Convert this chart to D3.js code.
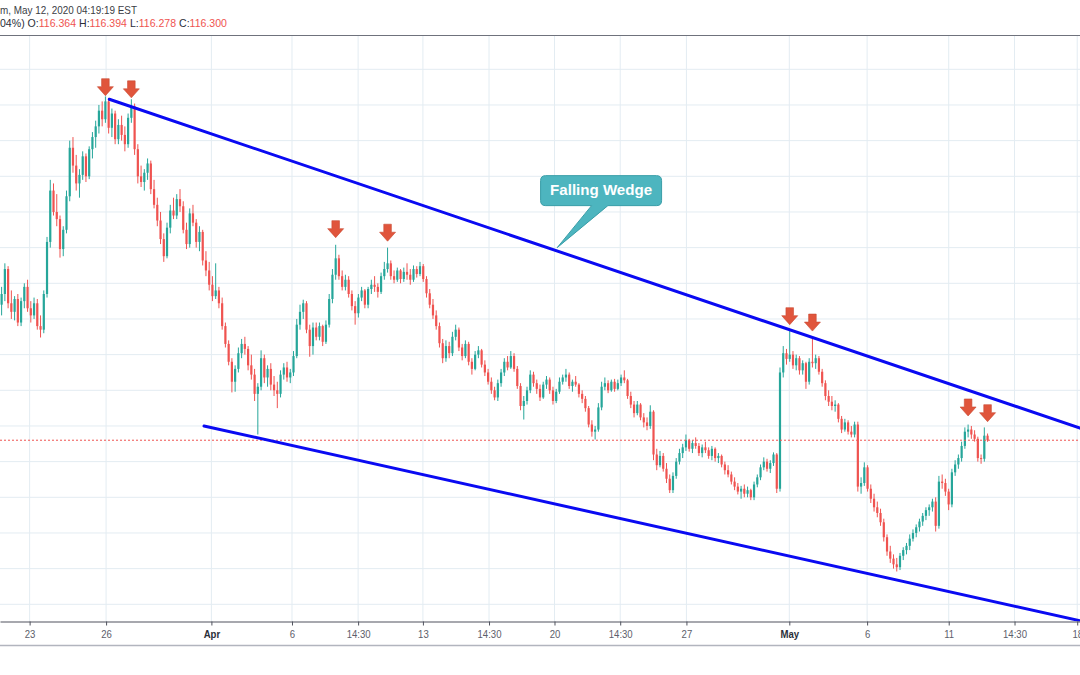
<!DOCTYPE html>
<html><head><meta charset="utf-8">
<script src="https://cdn.jsdelivr.net/npm/d3@7"></script>
<style>html,body{margin:0;padding:0;background:#fff;overflow:hidden}</style>
</head><body><svg id="c" width="1080" height="675"></svg>
<script>
// ---- DATA (EUR/JPY 3h candles: [open, high, low, close]) ----
const seg1 = [[118.20,118.45,118.05,118.35],[118.35,118.78,118.25,118.70],[118.70,118.74,118.15,118.22],[118.22,118.40,118.00,118.10],[118.10,118.32,117.98,118.28],[118.28,118.35,117.90,117.95],[117.95,118.30,117.90,118.25],[118.25,118.50,118.15,118.45],[118.45,118.55,118.10,118.15],[118.15,118.25,117.95,118.05],[118.05,118.30,118.00,118.22],[118.22,118.28,117.85,117.90],[117.90,118.05,117.74,117.85],[117.85,118.40,117.80,118.35],[118.35,119.15,118.30,119.08],[119.08,119.95,119.00,119.80],[119.80,119.90,119.45,119.50],[119.50,119.75,119.30,119.40],[119.40,119.45,118.86,118.98],[118.98,119.30,118.88,119.25],[119.25,119.80,119.20,119.72],[119.72,120.50,119.65,120.40],[120.40,120.55,120.05,120.15],[120.15,120.30,119.80,119.90],[119.90,120.10,119.70,120.02],[120.02,120.35,119.95,120.28],[120.28,120.32,119.92,120.00],[120.00,120.42,119.96,120.38],[120.38,120.62,120.25,120.55],[120.55,120.78,120.40,120.70],[120.70,121.00,120.60,120.92],[120.92,121.05,120.70,120.80],[120.80,121.12,120.75,121.05],[121.05,121.10,120.60,120.68],[120.68,120.95,120.55,120.88],[120.88,120.92,120.45,120.52],[120.52,120.80,120.45,120.72],[120.72,120.85,120.50,120.58],[120.58,120.70,120.35,120.45],[120.45,120.88,120.40,120.82]];
const seg2 = [[120.82,121.08,120.75,120.98],[120.98,121.02,120.30,120.38],[120.38,120.45,119.90,120.00],[120.00,120.15,119.85,119.92],[119.92,120.10,119.80,120.05],[120.05,120.25,119.95,120.18],[120.18,120.22,119.75,119.82],[119.82,119.95,119.55,119.60],[119.60,119.70,119.30,119.38],[119.38,119.50,119.05,119.12],[119.12,119.20,118.80,118.88],[118.88,119.35,118.85,119.28],[119.28,119.60,119.20,119.52],[119.52,119.70,119.40,119.45],[119.45,119.75,119.40,119.68],[119.68,119.82,119.50,119.58],[119.58,119.65,119.20,119.25],[119.25,119.35,118.98,119.05],[119.05,119.55,119.00,119.48],[119.48,119.60,119.30,119.35],[119.35,119.40,119.00,119.08],[119.08,119.30,118.95,119.22],[119.22,119.25,118.75,118.82],[118.82,118.95,118.60,118.68],[118.68,118.80,118.40,118.48],[118.48,118.60,118.25,118.32],[118.32,118.78,118.28,118.40],[118.40,118.45,118.15,118.22],[118.22,118.30,117.85,117.90],[117.90,117.95,117.60,117.65],[117.65,117.70,117.35,117.40],[117.40,117.45,116.97,117.12],[117.12,117.35,116.98,117.30],[117.30,117.60,117.25,117.52],[117.52,117.72,117.45,117.65],[117.65,117.75,117.50,117.58],[117.58,117.62,117.28,117.35],[117.35,117.50,117.15,117.22],[117.22,117.30,116.85,116.95],[116.95,117.10,116.38,117.05]];
const seg3 = [[117.05,117.56,117.00,117.45],[117.45,117.50,117.10,117.18],[117.18,117.35,117.05,117.30],[117.30,117.38,117.00,117.08],[117.08,117.20,116.92,117.00],[117.00,117.12,116.75,116.95],[116.95,117.28,116.90,117.22],[117.22,117.38,117.15,117.32],[117.32,117.40,117.12,117.18],[117.18,117.30,117.10,117.25],[117.25,117.55,117.20,117.48],[117.48,118.00,117.45,117.92],[117.92,118.20,117.85,118.10],[118.10,118.27,118.00,118.22],[118.22,118.25,117.80,117.85],[117.85,117.92,117.47,117.62],[117.62,117.95,117.50,117.88],[117.88,117.95,117.70,117.75],[117.75,117.95,117.70,117.90],[117.90,117.92,117.62,117.68],[117.68,117.98,117.65,117.92],[117.92,118.35,117.88,118.28],[118.28,118.70,118.22,118.62],[118.62,119.04,118.55,118.85],[118.85,118.90,118.55,118.60],[118.60,118.68,118.40,118.45],[118.45,118.62,118.40,118.55],[118.55,118.60,118.30,118.35],[118.35,118.40,118.12,118.18],[118.18,118.25,117.92,118.08],[118.08,118.35,118.02,118.30],[118.30,118.45,118.25,118.40],[118.40,118.42,118.15,118.20],[118.20,118.45,118.15,118.42],[118.42,118.55,118.35,118.48],[118.48,118.60,118.38,118.45],[118.45,118.50,118.30,118.38],[118.38,118.65,118.35,118.60],[118.60,118.80,118.55,118.70],[118.70,119.00,118.65,118.78]];
const seg4 = [[118.78,118.82,118.55,118.60],[118.60,118.68,118.50,118.55],[118.55,118.72,118.52,118.68],[118.68,118.70,118.50,118.56],[118.56,118.72,118.52,118.66],[118.66,118.78,118.55,118.62],[118.62,118.70,118.48,118.55],[118.55,118.75,118.52,118.70],[118.70,118.74,118.58,118.63],[118.63,118.80,118.60,118.74],[118.74,118.77,118.52,118.56],[118.56,118.60,118.30,118.36],[118.36,118.42,118.15,118.20],[118.20,118.28,118.00,118.05],[118.05,118.12,117.85,117.90],[117.90,117.95,117.60,117.66],[117.66,117.72,117.38,117.45],[117.45,117.70,117.40,117.62],[117.62,117.68,117.45,117.52],[117.52,117.82,117.48,117.75],[117.75,117.92,117.70,117.85],[117.85,117.88,117.55,117.60],[117.60,117.65,117.42,117.48],[117.48,117.70,117.45,117.65],[117.65,117.68,117.35,117.40],[117.40,117.45,117.22,117.30],[117.30,117.55,117.28,117.50],[117.50,117.62,117.45,117.56],[117.56,117.58,117.32,117.36],[117.36,117.42,117.20,117.25],[117.25,117.30,117.08,117.12],[117.12,117.18,116.95,117.00],[117.00,117.05,116.86,116.90],[116.90,117.15,116.85,117.10],[117.10,117.30,117.05,117.25],[117.25,117.45,117.20,117.40],[117.40,117.48,117.28,117.32],[117.32,117.55,117.30,117.48],[117.48,117.52,117.26,117.30],[117.30,117.34,117.02,117.06]];
const seg5 = [[117.06,117.10,116.72,116.78],[116.78,116.92,116.59,116.85],[116.85,117.05,116.80,117.00],[117.00,117.28,116.96,117.22],[117.22,117.26,117.05,117.10],[117.10,117.15,116.95,117.02],[117.02,117.08,116.85,116.90],[116.90,117.12,116.88,117.08],[117.08,117.20,117.02,117.15],[117.15,117.18,116.95,117.00],[117.00,117.05,116.80,116.85],[116.85,117.02,116.82,116.98],[116.98,117.18,116.95,117.12],[117.12,117.22,117.08,117.18],[117.18,117.30,117.12,117.22],[117.22,117.25,117.02,117.06],[117.06,117.15,116.98,117.12],[117.12,117.20,117.05,117.08],[117.08,117.10,116.90,116.95],[116.95,117.00,116.82,116.88],[116.88,116.92,116.70,116.75],[116.75,116.78,116.48,116.52],[116.52,116.58,116.35,116.42],[116.42,116.50,116.31,116.45],[116.45,116.82,116.42,116.76],[116.76,117.12,116.72,117.05],[117.05,117.18,117.00,117.10],[117.10,117.14,116.96,117.00],[117.00,117.15,116.98,117.12],[117.12,117.16,116.98,117.02],[117.02,117.15,117.00,117.10],[117.10,117.22,117.06,117.18],[117.18,117.28,117.10,117.14],[117.14,117.16,116.88,116.92],[116.92,116.98,116.75,116.80],[116.80,116.85,116.62,116.68],[116.68,116.85,116.65,116.80],[116.80,116.82,116.58,116.62],[116.62,116.68,116.48,116.55],[116.55,116.62,116.44,116.50]];
const seg6 = [[116.50,116.79,116.46,116.70],[116.70,116.72,116.02,116.10],[116.10,116.18,115.88,115.95],[115.95,116.15,115.92,116.08],[116.08,116.12,115.86,115.90],[115.90,115.98,115.70,115.76],[115.76,115.82,115.56,115.60],[115.60,115.85,115.56,115.80],[115.80,116.05,115.76,116.00],[116.00,116.18,115.96,116.12],[116.12,116.25,116.05,116.20],[116.20,116.38,116.15,116.30],[116.30,116.32,116.14,116.18],[116.18,116.30,116.12,116.26],[116.26,116.34,116.18,116.22],[116.22,116.26,116.08,116.12],[116.12,116.24,116.06,116.20],[116.20,116.28,116.12,116.16],[116.16,116.20,116.04,116.08],[116.08,116.22,116.02,116.18],[116.18,116.20,116.00,116.05],[116.05,116.12,115.98,116.08],[116.08,116.10,115.92,115.96],[115.96,116.00,115.82,115.88],[115.88,115.95,115.78,115.82],[115.82,115.86,115.68,115.72],[115.72,115.78,115.60,115.65],[115.65,115.70,115.54,115.58],[115.58,115.66,115.48,115.62],[115.62,115.68,115.50,115.55],[115.55,115.65,115.50,115.60],[115.60,115.62,115.46,115.50],[115.50,115.72,115.46,115.68],[115.68,115.82,115.64,115.78],[115.78,115.96,115.74,115.92],[115.92,116.06,115.88,116.00],[116.00,116.04,115.86,115.90],[115.90,116.02,115.84,115.98],[115.98,116.13,115.94,116.10],[116.10,116.12,115.56,115.62]];
const seg7 = [[115.62,117.32,115.58,117.25],[117.25,117.62,117.18,117.52],[117.52,117.58,117.36,117.44],[117.44,117.86,117.40,117.50],[117.50,117.55,117.30,117.35],[117.35,117.50,117.28,117.45],[117.45,117.48,117.22,117.28],[117.28,117.42,117.22,117.38],[117.38,117.40,117.02,117.12],[117.12,117.45,117.08,117.40],[117.40,117.76,117.32,117.38],[117.38,117.50,117.30,117.45],[117.45,117.48,117.22,117.26],[117.26,117.30,117.05,117.10],[117.10,117.14,116.86,116.92],[116.92,117.00,116.78,116.84],[116.84,116.92,116.72,116.78],[116.78,116.86,116.70,116.80],[116.80,116.82,116.55,116.60],[116.60,116.64,116.40,116.45],[116.45,116.60,116.42,116.55],[116.55,116.58,116.38,116.42],[116.42,116.50,116.34,116.38],[116.38,116.56,116.34,116.52],[116.52,116.56,115.58,115.65],[115.65,115.78,115.55,115.70],[115.70,115.99,115.66,115.92],[115.92,115.95,115.58,115.62],[115.62,115.68,115.42,115.48],[115.48,115.55,115.30,115.36],[115.36,115.44,115.22,115.28],[115.28,115.34,115.10,115.15],[115.15,115.20,114.88,114.94],[114.94,114.98,114.68,114.74],[114.74,114.82,114.58,114.64],[114.64,114.70,114.50,114.56],[114.56,114.65,114.46,114.52],[114.52,114.72,114.48,114.68],[114.68,114.80,114.62,114.76],[114.76,114.86,114.70,114.82]];
const seg8 = [[114.82,114.98,114.76,114.92],[114.92,115.05,114.88,115.00],[115.00,115.12,114.94,115.08],[115.08,115.20,115.02,115.16],[115.16,115.28,115.10,115.24],[115.24,115.36,115.18,115.32],[115.32,115.40,115.24,115.36],[115.36,115.48,115.30,115.44],[115.44,115.50,115.02,115.10],[115.10,115.80,115.06,115.72],[115.72,115.82,115.62,115.70],[115.70,115.76,115.52,115.58],[115.58,115.62,115.32,115.40],[115.40,115.90,115.36,115.85],[115.85,116.02,115.80,115.96],[115.96,116.10,115.90,116.05],[116.05,116.28,116.00,116.22],[116.22,116.48,116.18,116.42],[116.42,116.52,116.34,116.45],[116.45,116.50,116.32,116.38],[116.38,116.44,116.28,116.32],[116.32,116.35,116.00,116.05],[116.05,116.10,115.97,116.04],[116.04,116.48,116.00,116.364],[116.364,116.394,116.278,116.300]];

const tickBars   = [9.13, 32.71, 65.18, 90.03, 110.42, 130.40, 150.78, 170.97, 191.23, 211.65, 243.37, 267.36, 292.52, 312.81, 332.14];
const tickLabels = ["23","26","Apr","6","14:30","13","14:30","20","14:30","27","May","6","11","14:30","18"];
const monthLabels = ["Apr","May"];
const gridPrices = [114,114.5,115,115.5,116,116.5,117,117.5,118,118.5,119,119.5,120,120.5,121,121.5];

const arrowBars   = [32, 40, 103, 119, 243, 250, 298, 304];
const arrowPrices = [121.13, 121.10, 119.14, 119.09, 117.92, 117.83, 116.64, 116.56];

const upperWedge = [[33.7, 121.08], [333, 116.47]];
const lowerWedge = [[62.9, 116.50], [333, 113.77]];
const calloutText = "Falling Wedge";
const calloutTip = [171.8, 119.0];

const headerLine1 = "m, May 12, 2020 04:19:19 EST";
const headerPrefix = "04%) ";
const ohlcKeys = ["O:","H:","L:","C:"];
const ohlcVals = ["116.364","116.394","116.278","116.300"];

// ---- CHART ----
const svg = d3.select("#c");
const W = 1080, paneTop = 35.5, axisY = 621.5;
const x = d3.scaleLinear().domain([0, 333]).range([0, W]);
const y = d3.scaleLinear().domain([114, 121.5]).range([604.3, 69.3]);
const UP = "#26a69a", DOWN = "#ef5350";

svg.append("rect").attr("width", W).attr("height", 675).attr("fill", "#fff");

svg.append("defs").append("clipPath").attr("id","pane")
  .append("rect").attr("x",0).attr("y",paneTop).attr("width",W).attr("height",axisY-paneTop);

const pane = svg.append("g").attr("clip-path","url(#pane)");

// grid
pane.selectAll("line.hg").data(gridPrices).join("line")
  .attr("x1",0).attr("x2",W).attr("y1",d=>y(d)).attr("y2",d=>y(d))
  .attr("stroke","#e3ecf2").attr("stroke-width",1);
pane.selectAll("line.vg").data(tickBars).join("line")
  .attr("x1",d=>x(d)).attr("x2",d=>x(d)).attr("y1",paneTop).attr("y2",axisY)
  .attr("stroke","#e3ecf2").attr("stroke-width",1);

// candles
const candles = [].concat(seg1,seg2,seg3,seg4,seg5,seg6,seg7,seg8)
  .map((d,i)=>({i, o:d[0], h:d[1], l:d[2], c:d[3]}));
const col = d => d.c >= d.o ? UP : DOWN;
pane.append("g").selectAll("line").data(candles).join("line")
  .attr("x1",d=>x(d.i+0.5)).attr("x2",d=>x(d.i+0.5))
  .attr("y1",d=>y(d.h)).attr("y2",d=>y(d.l))
  .attr("stroke",col).attr("stroke-width",1);
pane.append("g").selectAll("rect").data(candles).join("rect")
  .attr("x",d=>x(d.i+0.5)-1.1).attr("width",2.2)
  .attr("y",d=>y(Math.max(d.o,d.c)))
  .attr("height",d=>Math.max(1, Math.abs(y(d.o)-y(d.c))))
  .attr("fill",col);

// last price dotted line
const last = candles[candles.length-1];
pane.append("line").attr("x1",0).attr("x2",W)
  .attr("y1",y(last.c)).attr("y2",y(last.c))
  .attr("stroke","#ef5350").attr("stroke-width",1).attr("stroke-dasharray","2,2");

// wedge lines
const line = d3.line().x(d=>x(d[0])).y(d=>y(d[1]));
[upperWedge, lowerWedge].forEach(w=>{
  pane.append("path").attr("d",line(w)).attr("fill","none")
    .attr("stroke","#0a0af2").attr("stroke-width",3).attr("stroke-linecap","round");
});

// arrows
const arrowPath = "M0,0 L-8,-9 L-3.8,-9 L-3.8,-17 L3.8,-17 L3.8,-9 L8,-9 Z";
pane.selectAll("path.arr").data(arrowBars).join("path")
  .attr("transform",(d,i)=>`translate(${x(d+0.5)},${y(arrowPrices[i])})`)
  .attr("d",arrowPath).attr("fill","#e0553c").attr("stroke","#c94a33").attr("stroke-width",0.6);

// callout
{
  const tx = x(calloutTip[0]), ty = y(calloutTip[1]);
  const L = tx-16.6, R = tx+104.4, T = ty-72, B = ty-42, r = 5;
  const b1 = tx+34.4, b2 = tx+50.7;
  const p = `M${L+r},${T} H${R-r} Q${R},${T} ${R},${T+r} V${B-r} Q${R},${B} ${R-r},${B} H${b2} L${tx},${ty} L${b1},${B} H${L+r} Q${L},${B} ${L},${B-r} V${T+r} Q${L},${T} ${L+r},${T} Z`;
  pane.append("path").attr("d",p).attr("fill","#4db5bf").attr("stroke","#3a9ea8").attr("stroke-width",1);
  pane.append("text").attr("x",(L+R)/2).attr("y",B-10.5).attr("text-anchor","middle")
    .attr("font-family","Liberation Sans, Arial, sans-serif").attr("font-weight","bold")
    .attr("font-size",14).attr("fill","#fff")
    .attr("textLength",102).attr("lengthAdjust","spacingAndGlyphs").text(calloutText);
}

// pane top border
svg.append("line").attr("x1",0).attr("x2",W).attr("y1",paneTop).attr("y2",paneTop)
  .attr("stroke","#6f727c").attr("stroke-width",1);

// x axis
const ax = d3.axisBottom(x).tickValues(tickBars).tickFormat((d,i)=>tickLabels[i])
  .tickSize(4).tickSizeOuter(0);
const gax = svg.append("g").attr("transform",`translate(0,${axisY})`).call(ax);
gax.select(".domain").attr("stroke","#50535e").attr("stroke-width",1.2);
gax.selectAll(".tick line").attr("stroke","#50535e");
gax.selectAll(".tick text")
  .attr("y",9).attr("fill",(d,i)=>monthLabels.includes(tickLabels[i]) ? "#2a2e39" : "#5d606b")
  .attr("font-family","Liberation Sans, Arial, sans-serif").attr("font-size",11)
  .attr("font-weight",(d,i)=>monthLabels.includes(tickLabels[i]) ? "bold" : "normal")
  .each(function(){
    const w = this.getComputedTextLength();
    d3.select(this).attr("textLength", w*0.87).attr("lengthAdjust","spacingAndGlyphs");
  });
svg.append("line").attr("x1",0).attr("x2",W).attr("y1",645.5).attr("y2",645.5)
  .attr("stroke","#b2b5be").attr("stroke-width",1.5);

// header
svg.append("text").attr("x",0).attr("y",14)
  .attr("font-family","Liberation Sans, Arial, sans-serif").attr("font-size",10.5)
  .attr("fill","#3b3d45").attr("textLength",137).attr("lengthAdjust","spacingAndGlyphs")
  .text(headerLine1);
const h2 = svg.append("text").attr("x",0).attr("y",27)
  .attr("font-family","Liberation Sans, Arial, sans-serif").attr("font-size",10.5)
  .attr("fill","#2a2e39");
h2.append("tspan").text(headerPrefix);
ohlcKeys.forEach((k,i)=>{
  h2.append("tspan").attr("fill","#2a2e39").text((i?" ":"")+k);
  h2.append("tspan").attr("fill","#ef5350").text(ohlcVals[i]);
});
h2.attr("textLength",227).attr("lengthAdjust","spacingAndGlyphs");
</script>
</body></html>
